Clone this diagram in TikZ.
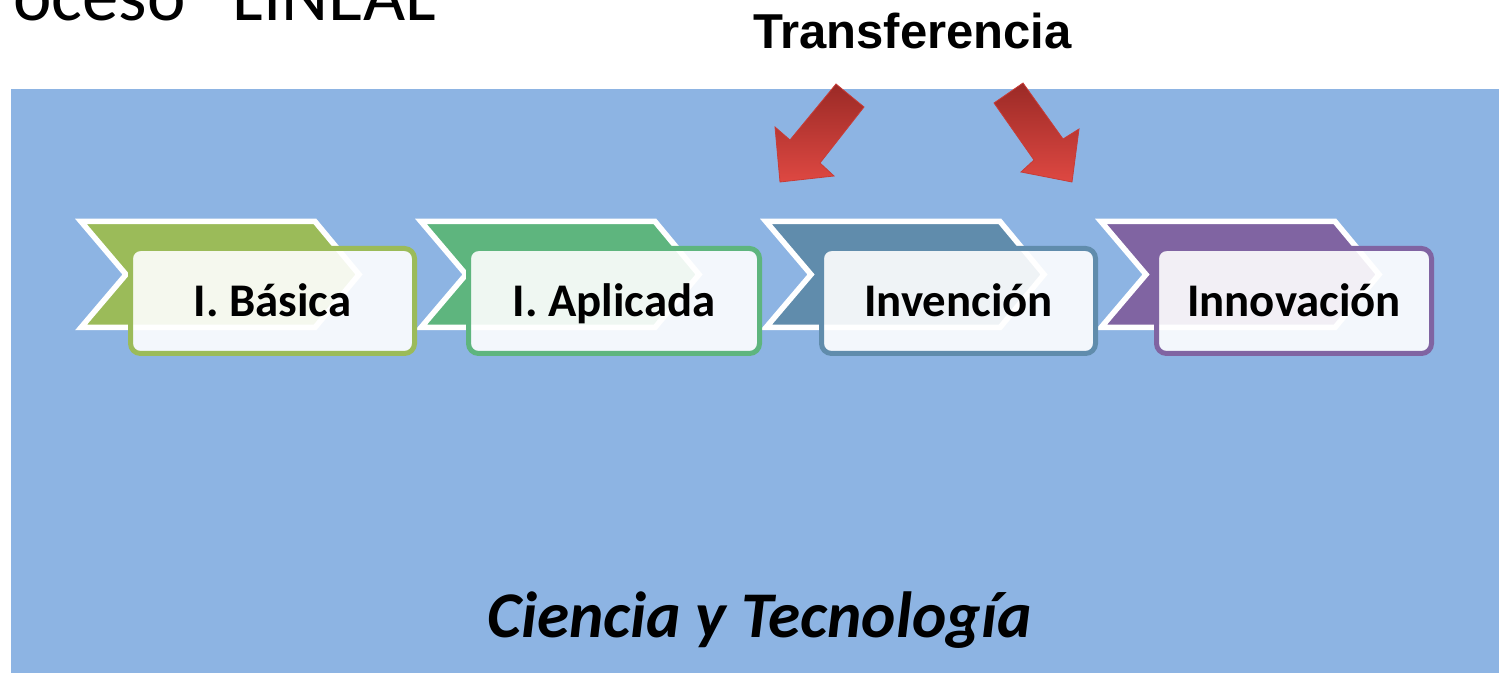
\documentclass[tikz,border=0pt]{standalone}
\usepackage{fontspec}
\setmainfont{Carlito}
\newfontfamily\arialfont{Liberation Sans}
\definecolor{bgblue}{RGB}{141,180,227}
\definecolor{cgreen}{RGB}{155,187,89}
\definecolor{cmint}{RGB}{94,181,126}
\definecolor{csteel}{RGB}{96,140,172}
\definecolor{cpurple}{RGB}{128,100,162}
\definecolor{arrdark}{RGB}{155,42,38}
\definecolor{arrlight}{RGB}{222,72,66}
\definecolor{arredge}{RGB}{200,60,55}
\begin{document}
\begin{tikzpicture}[x=0.5pt,y=-0.5pt,
  chevron/.style={draw=white, line width=2.75pt, line join=miter},
  stepbox/.style={draw=#1, rounded corners=5pt, line width=2.5pt, fill=white,
    fill opacity=0.9, text opacity=1, inner sep=0pt, minimum height=52.5pt,
    text height=15.07pt, text depth=0pt, font=\fontsize{23.4}{28}\selectfont\bfseries},
  blockarrow/.style={top color=arrdark, bottom color=arrlight, draw=arredge, line width=0.4pt, line join=miter},
  toptext/.style={font=\fontsize{36.4}{44}\selectfont, inner sep=0pt},
  transtext/.style={font=\fontsize{24.5}{30}\selectfont\arialfont\bfseries, inner sep=0pt},
  basetext/.style={font=\fontsize{32.6}{40}\selectfont\bfseries\itshape, inner sep=0pt}]
\useasboundingbox (0,0) rectangle (1499,673);
\clip (0,0) rectangle (1499,673);
% background
\fill[bgblue] (11,89) rectangle (1499,673);
% titles
\node[toptext, anchor=base west] (title) at (13,21) {oceso “LINEAL”};
\node[transtext, anchor=base] (trans) at (912.5,49) {Transferencia};
% block arrows
\path[blockarrow] (780,182) -- (834,176) -- (820,163) -- (864,107) -- (836,84) -- (790,140) -- (775,127) -- cycle;
\path[blockarrow] (1072,182) -- (1021,172) -- (1034,160) -- (994,103) -- (1023,83) -- (1063,139) -- (1079,129) -- cycle;
% chevrons
\foreach \L/\c in {78/cgreen, 418/cmint, 763/csteel, 1098/cpurple}{
  \path[chevron, fill=\c] (\L+3,221.5) -- (\L+237,221.5) -- (\L+281,274.5) -- (\L+237,327.5) -- (\L+3,327.5) -- (\L+48,274.5) -- cycle;
}
% boxes
\node[stepbox=cgreen, minimum width=142pt] (b1) at (272.5,301) {I. Básica};
\node[stepbox=cmint, minimum width=145.5pt] (b2) at (614,301) {I. Aplicada};
\node[stepbox=csteel, minimum width=137pt] (b3) at (958.5,301) {Invención};
\node[stepbox=cpurple, minimum width=137.5pt] (b4) at (1294,301) {Innovación};
% bottom label
\node[basetext, anchor=base] (ct) at (759.5,637) {Ciencia y Tecnología};
\end{tikzpicture}
\end{document}
